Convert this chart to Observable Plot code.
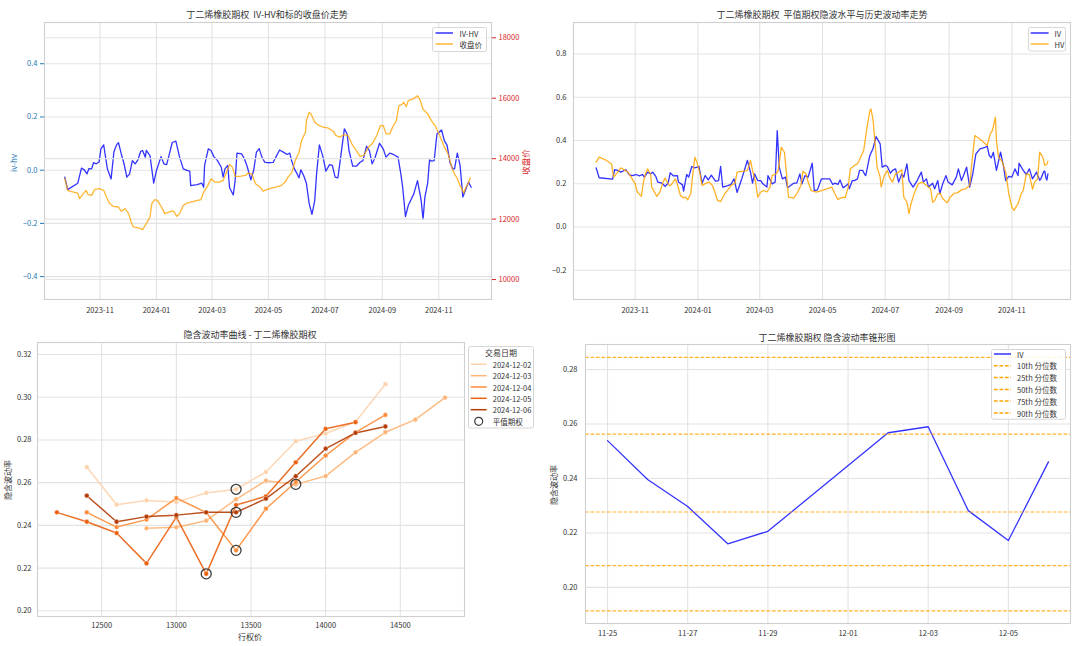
<!DOCTYPE html>
<html><head><meta charset="utf-8">
<script src="https://cdn.jsdelivr.net/npm/d3@7"></script>
<script src="https://cdn.jsdelivr.net/npm/@observablehq/plot@0.6"></script>
<style>
body{margin:0;background:#fff;}
#root{position:relative;width:1080px;height:646px;overflow:hidden;background:#fff;font-family:"Noto Sans CJK SC","Noto Sans",sans-serif;}
</style></head><body><div id="root"></div>
<script>
// ---------------- DATA ----------------
// Panel 1: IV-HV and underlying close price
const ivHvDates = ["2023-09-24","2023-09-27","2023-10-08","2023-10-12","2023-10-15","2023-10-18","2023-10-20","2023-10-23","2023-10-25","2023-10-28","2023-10-31","2023-11-02","2023-11-05","2023-11-07","2023-11-09","2023-11-13","2023-11-16","2023-11-19","2023-11-21","2023-11-24","2023-11-27","2023-11-30","2023-12-03","2023-12-06","2023-12-09","2023-12-12","2023-12-15","2023-12-17","2023-12-20","2023-12-21","2023-12-25","2023-12-29","2024-01-01","2024-01-06","2024-01-09","2024-01-12","2024-01-15","2024-01-18","2024-01-22","2024-01-26","2024-01-30","2024-02-03","2024-02-06","2024-02-07","2024-02-14","2024-02-19","2024-02-21","2024-02-22","2024-02-26","2024-02-29","2024-03-03","2024-03-07","2024-03-11","2024-03-13","2024-03-15","2024-03-18","2024-03-20","2024-03-24","2024-03-26","2024-03-28","2024-04-02","2024-04-05","2024-04-08","2024-04-12","2024-04-15","2024-04-18","2024-04-21","2024-04-24","2024-04-27","2024-04-30","2024-05-06","2024-05-09","2024-05-13","2024-05-18","2024-05-21","2024-05-24","2024-05-26","2024-05-29","2024-06-01","2024-06-03","2024-06-05","2024-06-08","2024-06-11","2024-06-14","2024-06-17","2024-06-20","2024-06-22","2024-06-25","2024-06-29","2024-07-02","2024-07-06","2024-07-09","2024-07-12","2024-07-15","2024-07-18","2024-07-22","2024-07-25","2024-07-27","2024-07-31","2024-08-04","2024-08-08","2024-08-11","2024-08-15","2024-08-18","2024-08-21","2024-08-24","2024-08-29","2024-09-02","2024-09-05","2024-09-09","2024-09-13","2024-09-18","2024-09-21","2024-09-23","2024-09-26","2024-09-29","2024-10-02","2024-10-05","2024-10-09","2024-10-12","2024-10-13","2024-10-15","2024-10-17","2024-10-20","2024-10-22","2024-10-24","2024-10-27","2024-10-30","2024-11-02","2024-11-04","2024-11-07","2024-11-10","2024-11-13","2024-11-16","2024-11-18","2024-11-21","2024-11-24","2024-11-27","2024-11-30","2024-12-03","2024-12-06"];
const ivHvValues = [-0.026,-0.073,-0.049,0.008,0.001,-0.014,0.006,0.005,0.028,0.024,0.031,0.080,0.095,0.049,0.005,-0.033,0.068,0.096,0.103,0.061,0.024,-0.026,-0.014,0.036,0.024,0.039,0.071,0.074,0.049,0.074,0.055,-0.049,-0.001,0.051,0.024,0.021,0.061,0.104,0.109,0.049,0.005,-0.001,-0.004,-0.058,-0.054,-0.049,-0.064,0.018,0.080,0.074,0.051,0.036,0.011,-0.026,0.005,0.018,-0.066,-0.093,-0.039,0.064,0.061,0.043,0.014,-0.036,-0.001,0.068,0.081,0.049,0.030,0.028,0.029,0.049,0.076,0.066,0.059,0.064,0.036,0.005,-0.014,-0.029,0.001,-0.020,-0.049,-0.126,-0.166,-0.114,-0.014,0.095,0.049,-0.004,0.021,0.018,-0.026,-0.029,0.049,0.155,0.136,0.074,0.015,0.015,0.030,0.036,0.090,0.074,0.024,0.046,0.101,0.080,0.049,0.064,0.059,0.049,-0.014,-0.064,-0.174,-0.133,-0.111,-0.089,-0.039,-0.095,-0.114,-0.185,-0.101,-0.049,0.039,0.034,0.036,0.136,0.145,0.151,0.111,0.093,0.030,0.005,0.005,0.064,0.018,-0.101,-0.074,-0.045,-0.064];

const closeDates = ["2023-09-24","2023-09-27","2023-09-30","2023-10-08","2023-10-10","2023-10-14","2023-10-17","2023-10-19","2023-10-23","2023-10-26","2023-10-31","2023-11-05","2023-11-08","2023-11-11","2023-11-15","2023-11-21","2023-11-24","2023-11-28","2023-12-02","2023-12-05","2023-12-07","2023-12-13","2023-12-17","2023-12-21","2023-12-25","2023-12-27","2023-12-30","2024-01-02","2024-01-06","2024-01-10","2024-01-15","2024-01-19","2024-01-23","2024-01-26","2024-01-30","2024-02-03","2024-02-10","2024-02-18","2024-02-21","2024-02-25","2024-02-29","2024-03-04","2024-03-09","2024-03-13","2024-03-16","2024-03-20","2024-03-23","2024-03-26","2024-03-31","2024-04-06","2024-04-09","2024-04-13","2024-04-17","2024-04-22","2024-04-25","2024-05-02","2024-05-09","2024-05-15","2024-05-19","2024-05-22","2024-05-26","2024-05-30","2024-06-03","2024-06-06","2024-06-10","2024-06-11","2024-06-14","2024-06-16","2024-06-20","2024-06-23","2024-06-29","2024-07-04","2024-07-10","2024-07-13","2024-07-17","2024-07-22","2024-07-26","2024-07-30","2024-08-05","2024-08-08","2024-08-12","2024-08-17","2024-08-21","2024-08-26","2024-08-30","2024-09-02","2024-09-05","2024-09-09","2024-09-13","2024-09-16","2024-09-19","2024-09-22","2024-09-24","2024-09-27","2024-09-29","2024-10-05","2024-10-09","2024-10-12","2024-10-15","2024-10-20","2024-10-24","2024-10-28","2024-11-02","2024-11-07","2024-11-11","2024-11-16","2024-11-21","2024-11-24","2024-11-28","2024-11-30","2024-12-03","2024-12-05"];
const closeValues = [13336,12951,12918,12863,12676,12841,12951,12819,12786,12973,13006,12951,12731,12533,12423,12401,12258,12346,12181,11873,11741,11708,11653,11851,12071,12511,12643,12621,12423,12181,12236,12269,12093,12181,12456,12533,12588,12643,12896,13083,13336,13226,13226,13281,13501,13809,13721,13413,13413,13446,13523,13501,13171,13061,12929,13006,13061,13116,13226,13391,13523,13941,14216,14623,14876,15261,15536,15481,15206,15129,15041,15019,14909,14766,14711,14799,14766,14491,14216,14073,14106,14381,14491,14766,15096,15096,14821,14821,15096,15239,15756,15789,15866,15723,15921,15987,16086,15921,15635,15481,15261,15096,14766,14381,14161,13611,13336,13116,12863,13039,13193,13369];

// Panel 2: ATM implied vol and historical vol
const ivDates = ["2023-09-24","2023-09-27","2023-10-10","2023-10-12","2023-10-15","2023-10-18","2023-10-23","2023-10-26","2023-10-29","2023-11-02","2023-11-05","2023-11-08","2023-11-10","2023-11-13","2023-11-16","2023-11-18","2023-11-21","2023-11-23","2023-11-27","2023-11-30","2023-12-03","2023-12-05","2023-12-08","2023-12-12","2023-12-13","2023-12-17","2023-12-18","2023-12-21","2023-12-23","2023-12-26","2023-12-29","2024-01-02","2024-01-05","2024-01-08","2024-01-11","2024-01-14","2024-01-18","2024-01-21","2024-01-23","2024-01-25","2024-01-30","2024-02-02","2024-02-05","2024-02-08","2024-02-12","2024-02-18","2024-02-21","2024-02-23","2024-02-25","2024-02-28","2024-03-02","2024-03-04","2024-03-08","2024-03-09","2024-03-13","2024-03-16","2024-03-18","2024-03-20","2024-03-23","2024-03-26","2024-03-28","2024-03-31","2024-04-03","2024-04-06","2024-04-09","2024-04-11","2024-04-14","2024-04-17","2024-04-21","2024-04-23","2024-04-26","2024-04-30","2024-05-05","2024-05-08","2024-05-11","2024-05-13","2024-05-16","2024-05-18","2024-05-21","2024-05-23","2024-05-26","2024-05-27","2024-05-30","2024-06-01","2024-06-04","2024-06-06","2024-06-09","2024-06-11","2024-06-12","2024-06-16","2024-06-19","2024-06-22","2024-06-26","2024-06-28","2024-07-01","2024-07-03","2024-07-06","2024-07-08","2024-07-11","2024-07-14","2024-07-17","2024-07-19","2024-07-22","2024-07-24","2024-07-28","2024-08-01","2024-08-05","2024-08-07","2024-08-10","2024-08-12","2024-08-16","2024-08-18","2024-08-21","2024-08-23","2024-08-26","2024-08-29","2024-08-31","2024-09-04","2024-09-08","2024-09-10","2024-09-13","2024-09-15","2024-09-18","2024-09-21","2024-09-24","2024-09-27","2024-10-01","2024-10-06","2024-10-08","2024-10-10","2024-10-12","2024-10-14","2024-10-17","2024-10-21","2024-10-24","2024-10-26","2024-10-29","2024-11-01","2024-11-04","2024-11-07","2024-11-08","2024-11-12","2024-11-15","2024-11-18","2024-11-21","2024-11-25","2024-11-26","2024-11-27","2024-11-28","2024-11-29","2024-12-02","2024-12-03","2024-12-04","2024-12-05","2024-12-06"];
const ivValues = [0.274,0.228,0.222,0.265,0.262,0.254,0.265,0.243,0.238,0.243,0.237,0.243,0.231,0.254,0.246,0.254,0.234,0.208,0.203,0.189,0.203,0.251,0.237,0.238,0.208,0.195,0.166,0.243,0.231,0.280,0.274,0.280,0.203,0.238,0.218,0.240,0.212,0.215,0.280,0.185,0.192,0.197,0.223,0.160,0.215,0.308,0.254,0.203,0.246,0.215,0.215,0.200,0.185,0.238,0.200,0.208,0.446,0.277,0.223,0.231,0.182,0.192,0.203,0.203,0.246,0.200,0.238,0.231,0.295,0.169,0.172,0.223,0.223,0.223,0.197,0.203,0.197,0.218,0.182,0.188,0.200,0.177,0.215,0.215,0.223,0.262,0.262,0.243,0.238,0.331,0.362,0.418,0.385,0.277,0.285,0.280,0.249,0.262,0.269,0.208,0.246,0.231,0.292,0.215,0.185,0.215,0.254,0.208,0.223,0.185,0.203,0.177,0.215,0.154,0.203,0.238,0.208,0.195,0.231,0.269,0.215,0.238,0.277,0.185,0.246,0.338,0.362,0.369,0.374,0.331,0.320,0.346,0.262,0.346,0.277,0.215,0.234,0.231,0.269,0.238,0.295,0.262,0.243,0.269,0.223,0.2539,0.2396,0.2297,0.2160,0.2206,0.2568,0.2590,0.2282,0.2172,0.2461];

const hvDates = ["2023-09-24","2023-09-27","2023-10-03","2023-10-09","2023-10-11","2023-10-15","2023-10-18","2023-10-22","2023-10-25","2023-10-28","2023-11-01","2023-11-03","2023-11-07","2023-11-09","2023-11-11","2023-11-13","2023-11-16","2023-11-17","2023-11-22","2023-11-25","2023-11-28","2023-11-30","2023-12-04","2023-12-06","2023-12-10","2023-12-12","2023-12-15","2023-12-18","2023-12-20","2023-12-22","2023-12-25","2023-12-27","2023-12-29","2023-12-31","2024-01-03","2024-01-05","2024-01-09","2024-01-12","2024-01-15","2024-01-18","2024-01-20","2024-01-23","2024-01-27","2024-01-30","2024-02-02","2024-02-06","2024-02-08","2024-02-13","2024-02-18","2024-02-21","2024-02-23","2024-02-26","2024-02-28","2024-03-02","2024-03-05","2024-03-08","2024-03-11","2024-03-13","2024-03-17","2024-03-19","2024-03-22","2024-03-25","2024-03-27","2024-03-29","2024-04-03","2024-04-06","2024-04-10","2024-04-12","2024-04-15","2024-04-17","2024-04-20","2024-04-25","2024-04-30","2024-05-05","2024-05-10","2024-05-13","2024-05-16","2024-05-19","2024-05-22","2024-05-23","2024-05-26","2024-05-28","2024-06-01","2024-06-04","2024-06-07","2024-06-10","2024-06-13","2024-06-16","2024-06-17","2024-06-19","2024-06-22","2024-06-23","2024-06-26","2024-06-27","2024-06-30","2024-07-03","2024-07-05","2024-07-08","2024-07-11","2024-07-14","2024-07-17","2024-07-19","2024-07-22","2024-07-24","2024-07-26","2024-07-29","2024-08-02","2024-08-06","2024-08-10","2024-08-14","2024-08-16","2024-08-18","2024-08-21","2024-08-23","2024-08-26","2024-08-30","2024-09-02","2024-09-06","2024-09-09","2024-09-13","2024-09-17","2024-09-21","2024-09-23","2024-09-26","2024-10-02","2024-10-08","2024-10-11","2024-10-13","2024-10-16","2024-10-17","2024-10-19","2024-10-22","2024-10-26","2024-10-29","2024-11-01","2024-11-03","2024-11-07","2024-11-10","2024-11-12","2024-11-15","2024-11-18","2024-11-21","2024-11-23","2024-11-26","2024-11-28","2024-12-01","2024-12-03","2024-12-05","2024-12-06"];
const hvValues = [0.300,0.323,0.311,0.292,0.231,0.254,0.274,0.262,0.254,0.231,0.200,0.162,0.142,0.208,0.246,0.269,0.243,0.185,0.142,0.162,0.208,0.226,0.192,0.195,0.223,0.197,0.146,0.135,0.138,0.126,0.154,0.246,0.323,0.300,0.246,0.192,0.203,0.208,0.192,0.154,0.123,0.118,0.154,0.172,0.192,0.203,0.254,0.258,0.262,0.308,0.262,0.208,0.138,0.162,0.169,0.162,0.185,0.238,0.246,0.262,0.369,0.346,0.246,0.138,0.134,0.154,0.192,0.258,0.246,0.208,0.169,0.162,0.169,0.177,0.185,0.154,0.128,0.135,0.138,0.135,0.185,0.269,0.285,0.292,0.323,0.354,0.454,0.538,0.546,0.500,0.338,0.277,0.231,0.185,0.238,0.262,0.231,0.208,0.246,0.254,0.265,0.138,0.115,0.062,0.108,0.154,0.200,0.208,0.192,0.177,0.115,0.123,0.154,0.157,0.131,0.112,0.138,0.157,0.158,0.172,0.177,0.192,0.292,0.423,0.403,0.377,0.431,0.446,0.508,0.400,0.323,0.308,0.254,0.154,0.092,0.077,0.108,0.154,0.169,0.246,0.243,0.175,0.208,0.223,0.346,0.323,0.285,0.292,0.305];

// Panel 3: IV smile by trading date
const smileDates = ["2024-12-02","2024-12-03","2024-12-04","2024-12-05","2024-12-06"];
const strikes = [12200,12400,12600,12800,13000,13200,13400,13600,13800,14000,14200,14400,14600,14800];
const smile1202 = [null,0.2673,0.2497,0.2517,0.2509,0.2552,0.2569,0.2650,0.2794,0.2830,0.2885,0.3061,null,null];
const smile1203 = [null,null,null,0.2386,0.2391,0.2422,0.2522,0.2609,0.2592,0.2631,0.2742,0.2836,0.2895,0.2998];
const smile1204 = [null,0.2461,0.2392,0.2427,0.2528,0.2460,0.2283,0.2478,0.2603,0.2727,0.2835,0.2917,null,null];
const smile1205 = [0.2461,0.2417,0.2364,0.2222,0.2439,0.2173,0.2495,0.2536,0.2695,0.2852,0.2883,null,null,null];
const smile1206 = [null,0.2539,0.2417,0.2441,0.2448,0.2461,0.2461,0.2525,0.2630,0.2759,0.2833,0.2863,null,null];
const atmStrikes = [13400,13800,13400,13200,13400];
const atmIV = [0.2569,0.2592,0.2283,0.2173,0.2461];

// Panel 4: IV cone
const coneDates = ["2024-11-25","2024-11-26","2024-11-27","2024-11-28","2024-11-29","2024-12-02","2024-12-03","2024-12-04","2024-12-05","2024-12-06"];
const coneIV = [0.2539,0.2396,0.2297,0.2160,0.2206,0.2568,0.2590,0.2282,0.2172,0.2461];
const pctLabels = ["10th 分位数","25th 分位数","50th 分位数","75th 分位数","90th 分位数"];
const pctValues = [0.1914,0.2080,0.2277,0.2563,0.2845];

// tick values
const monthTicks = ["2023-11-01","2024-01-01","2024-03-01","2024-05-01","2024-07-01","2024-09-01","2024-11-01"];
const ivHvTicks = [-0.4,-0.2,0,0.2,0.4];
const closeTicks = [10000,12000,14000,16000,18000];
const volTicks = [-0.2,0,0.2,0.4,0.6,0.8];
const strikeTicks = [12500,13000,13500,14000,14500];
const smileTicks = [0.20,0.22,0.24,0.26,0.28,0.30,0.32];
const coneXTicks = ["2024-11-25","2024-11-27","2024-11-29","2024-12-01","2024-12-03","2024-12-05"];
const coneYTicks = [0.20,0.22,0.24,0.26,0.28];

// ---------------- RENDER ----------------
const FONT = '"Noto Sans CJK SC","Noto Sans",sans-serif';
const GRID = "#e3e3e3", FRAME = "#cfcfcf", TXT = "#333";
const root = document.getElementById("root");
const D = s => new Date(s + "T00:00:00Z");
const zip = (a, b, f) => a.slice(0, Math.min(a.length, b.length)).map((v, i) => f(v, b[i]));
const minus = (d, n) => (d < 0 ? "\u2212" : "") + Math.abs(d).toFixed(n);
const style = {fontFamily: FONT, fontSize: "7.5px", color: TXT, background: "transparent", overflow: "visible"};

function put(el, left, top) {
  const d = document.createElement("div");
  d.style.cssText = `position:absolute;left:${left}px;top:${top}px;`;
  d.appendChild(el); root.appendChild(d);
}
function label(text, x, y, {size = 9, color = TXT, rotate = 0} = {}) {
  const d = document.createElement("div");
  d.textContent = text;
  d.style.cssText = `position:absolute;left:${x}px;top:${y}px;font-size:${size}px;color:${color};white-space:pre;line-height:1;transform:translate(-50%,-50%) rotate(${rotate}deg);`;
  root.appendChild(d);
}
function legend(left, top, w, h, items, title) {
  const svg = d3.create("svg").attr("width", w).attr("height", h)
    .style("position", "absolute").style("left", left + "px").style("top", top + "px")
    .style("overflow", "visible").style("font-family", FONT).style("font-size", "7.5px");
  svg.append("rect").attr("x", 0.5).attr("y", 0.5).attr("width", w - 1).attr("height", h - 1)
    .attr("rx", 2).attr("fill", "white").attr("fill-opacity", 0.85).attr("stroke", "#d6d6d6");
  if (title) svg.append("text").attr("x", w / 2).attr("y", title.y).attr("text-anchor", "middle")
    .attr("dominant-baseline", "central").attr("fill", TXT).style("font-size", "8px").text(title.text);
  for (const it of items) {
    if (it.kind === "circle") {
      svg.append("circle").attr("cx", (it.x0 + it.x1) / 2).attr("cy", it.y).attr("r", 4)
        .attr("fill", "none").attr("stroke", "#3a3a3a").attr("stroke-width", 1.2);
    } else {
      svg.append("line").attr("x1", it.x0).attr("x2", it.x1).attr("y1", it.y).attr("y2", it.y)
        .attr("stroke", it.color).attr("stroke-width", it.width || 1.5)
        .attr("stroke-dasharray", it.kind === "dash" ? "3.7,1.8" : null);
    }
    svg.append("text").attr("x", it.tx).attr("y", it.y).attr("dominant-baseline", "central")
      .attr("fill", TXT).text(it.label);
  }
  root.appendChild(svg.node());
}

// shared time domain (5% padding like matplotlib)
const allT = [...ivHvDates, ...closeDates, ...ivDates, ...hvDates].map(D);
const [t0, t1] = d3.extent(allT);
const padT = (t1 - t0) * 0.05;
const timeDomain = [new Date(+t0 - padT), new Date(+t1 + padT)];
const mTicks = monthTicks.map(D);

// ---- Panel 1 (left axis: IV-HV) ----
const ivHvRows = zip(ivHvDates, ivHvValues, (d, v) => ({date: D(d), v}));
const closeRows = zip(closeDates, closeValues, (d, v) => ({date: D(d), v}));
const p1dims = {width: 540, height: 320, marginLeft: 44, marginRight: 49, marginTop: 22, marginBottom: 21};
put(Plot.plot({
  ...p1dims, style,
  x: {type: "utc", domain: timeDomain},
  y: {domain: [-0.486, 0.555]},
  marks: [
    Plot.gridX(mTicks, {stroke: GRID, strokeOpacity: 1, strokeWidth: 1.1}),
    Plot.gridY(ivHvTicks, {stroke: GRID, strokeOpacity: 1, strokeWidth: 1.1}),
    Plot.line(ivHvRows, {x: "date", y: "v", stroke: "#0000ff", strokeOpacity: 0.8, strokeWidth: 1.3}),
    Plot.frame({stroke: FRAME, strokeWidth: 1.1}),
    Plot.axisX(mTicks, {tickSize: 0, tickPadding: 8, tickFormat: d3.utcFormat("%Y-%m"), label: null}),
    Plot.axisY(ivHvTicks, {anchor: "left", tickSize: 4, tickPadding: 3, tickFormat: d => minus(d, 1), label: null, color: "#1f77b4"})
  ]
}), 0, 0);
// ---- Panel 1 (right axis: close price) ----
put(Plot.plot({
  ...p1dims, style,
  x: {type: "utc", domain: timeDomain, axis: null},
  y: {domain: [9340, 18506]},
  marks: [
    Plot.gridY(closeTicks, {stroke: GRID, strokeOpacity: 1, strokeWidth: 1.1}),
    Plot.line(closeRows, {x: "date", y: "v", stroke: "#ffa500", strokeOpacity: 0.8, strokeWidth: 1.3}),
    Plot.axisY(closeTicks, {anchor: "right", tickSize: 4, tickPadding: 3, tickFormat: d => String(d), label: null, color: "#d62728"})
  ]
}), 0, 0);

// ---- Panel 2 ----
const ivRows = zip(ivDates, ivValues, (d, v) => ({date: D(d), v}));
const hvRows = zip(hvDates, hvValues, (d, v) => ({date: D(d), v}));
put(Plot.plot({
  width: 540, height: 320, marginLeft: 33, marginRight: 10, marginTop: 22, marginBottom: 21, style,
  x: {type: "utc", domain: timeDomain},
  y: {domain: [-0.335, 0.946]},
  marks: [
    Plot.gridX(mTicks, {stroke: GRID, strokeOpacity: 1, strokeWidth: 1.1}),
    Plot.gridY(volTicks, {stroke: GRID, strokeOpacity: 1, strokeWidth: 1.1}),
    Plot.line(ivRows, {x: "date", y: "v", stroke: "#0000ff", strokeOpacity: 0.8, strokeWidth: 1.3}),
    Plot.line(hvRows, {x: "date", y: "v", stroke: "#ffa500", strokeOpacity: 0.85, strokeWidth: 1.3}),
    Plot.frame({stroke: FRAME, strokeWidth: 1.1}),
    Plot.axisX(mTicks, {tickSize: 0, tickPadding: 8, tickFormat: d3.utcFormat("%Y-%m"), label: null}),
    Plot.axisY(volTicks, {anchor: "left", tickSize: 0, tickPadding: 7, tickFormat: d => minus(d, 1), label: null})
  ]
}), 540, 0);

// ---- Panel 3 ----
const smileSeries = [smile1202, smile1203, smile1204, smile1205, smile1206];
const smileColors = ["#fdd3ad", "#fdb577", "#fd8d3c", "#ea600f", "#b53d05"];
const smileMarks = [];
smileSeries.forEach((vals, i) => {
  const rows = zip(strikes, vals, (k, v) => ({strike: k, iv: v})).filter(r => r.iv != null);
  smileMarks.push(Plot.line(rows, {x: "strike", y: "iv", stroke: smileColors[i], strokeOpacity: 0.9, strokeWidth: 1.5}));
  smileMarks.push(Plot.dot(rows, {x: "strike", y: "iv", r: 2.4, fill: smileColors[i], stroke: "white", strokeWidth: 0.4}));
});
const atmRows = zip(atmStrikes, atmIV, (k, v) => ({strike: k, iv: v}));
put(Plot.plot({
  width: 540, height: 326, marginLeft: 37, marginRight: 76, marginTop: 22, marginBottom: 30, style,
  x: {domain: [12070, 14930]},
  y: {domain: [0.19734, 0.32562]},
  marks: [
    Plot.gridX(strikeTicks, {stroke: GRID, strokeOpacity: 1, strokeWidth: 1.1}),
    Plot.gridY(smileTicks, {stroke: GRID, strokeOpacity: 1, strokeWidth: 1.1}),
    ...smileMarks,
    Plot.dot(atmRows, {x: "strike", y: "iv", r: 5, fill: "none", stroke: "#3a3a3a", strokeWidth: 1.3}),
    Plot.frame({stroke: FRAME, strokeWidth: 1.1}),
    Plot.axisX(strikeTicks, {tickSize: 0, tickPadding: 6, tickFormat: d => String(d), label: null}),
    Plot.axisY(smileTicks, {anchor: "left", tickSize: 0, tickPadding: 6, tickFormat: d => d.toFixed(2), label: null})
  ]
}), 0, 320);

// ---- Panel 4 ----
const coneRows = zip(coneDates, coneIV, (d, v) => ({date: D(d), v}));
const [c0, c1] = d3.extent(coneRows, r => r.date);
const padC = (c1 - c0) * 0.05;
put(Plot.plot({
  width: 540, height: 326, marginLeft: 45, marginRight: 10, marginTop: 24, marginBottom: 23, style,
  x: {type: "utc", domain: [new Date(+c0 - padC), new Date(+c1 + padC)]},
  y: {domain: [0.18675, 0.2892]},
  marks: [
    Plot.gridX(coneXTicks.map(D), {stroke: GRID, strokeOpacity: 1, strokeWidth: 1.1}),
    Plot.gridY(coneYTicks, {stroke: GRID, strokeOpacity: 1, strokeWidth: 1.1}),
    Plot.line(coneRows, {x: "date", y: "v", stroke: "#0000ff", strokeOpacity: 0.8, strokeWidth: 1.3}),
    Plot.ruleY(pctValues, {stroke: "#ffa500", strokeOpacity: 0.85, strokeWidth: 1.2, strokeDasharray: "3.7,1.8"}),
    Plot.frame({stroke: FRAME, strokeWidth: 1.1}),
    Plot.axisX(coneXTicks.map(D), {tickSize: 0, tickPadding: 7, tickFormat: d3.utcFormat("%m-%d"), label: null}),
    Plot.axisY(coneYTicks, {anchor: "left", tickSize: 0, tickPadding: 8, tickFormat: d => d.toFixed(2), label: null})
  ]
}), 540, 320);

// ---- Titles & axis labels ----
label("丁二烯橡胶期权  IV-HV和标的收盘价走势", 267, 14);
label("丁二烯橡胶期权  平值期权隐波水平与历史波动率走势", 822, 14);
label("隐含波动率曲线 - 丁二烯橡胶期权", 250, 333.5);
label("丁二烯橡胶期权 隐含波动率锥形图", 827, 337);
label("iv-hv", 13.5, 163, {size: 8, color: "#1f77b4", rotate: -90});
label("收盘价", 525, 162, {size: 8.5, color: "#d62728", rotate: -90});
label("行权价", 250, 637, {size: 8});
label("隐含波动率", 8, 480, {size: 8, rotate: -90});
label("隐含波动率", 554, 485, {size: 8, rotate: -90});

// ---- Legends ----
legend(432, 26.5, 55, 25, [
  {kind: "line", color: "#3333ff", x0: 3.5, x1: 21, y: 6, tx: 27.5, label: "IV-HV"},
  {kind: "line", color: "#ffb733", x0: 3.5, x1: 21, y: 17, tx: 27.5, label: "收盘价"}
]);
legend(1028, 26.5, 38, 24.5, [
  {kind: "line", color: "#3333ff", x0: 2.7, x1: 20.6, y: 6, tx: 26.5, label: "IV"},
  {kind: "line", color: "#ffb733", x0: 2.7, x1: 20.6, y: 17, tx: 26.5, label: "HV"}
]);
const bl = [18.3, 29.7, 41, 52.3, 63.7];
legend(468.3, 346, 66, 82.5, [
  ...smileDates.map((d, i) => ({kind: "line", color: smileColors[i], x0: 2.7, x1: 18.7, y: bl[i], tx: 24.8, label: d})),
  {kind: "circle", x0: 2.7, x1: 18.7, y: 75.3, tx: 24.8, label: "平值期权"}
], {text: "交易日期", y: 6.8});
const brY = [16.7, 28.4, 40.4, 52, 64];
legend(991, 349.3, 75, 70.7, [
  {kind: "line", color: "#3333ff", x0: 2.9, x1: 20, y: 5, tx: 26, label: "IV"},
  ...pctLabels.map((l, i) => ({kind: "dash", color: "#ffa500", x0: 2.9, x1: 20, y: brY[i], tx: 26, label: l}))
]);
</script></body></html>
